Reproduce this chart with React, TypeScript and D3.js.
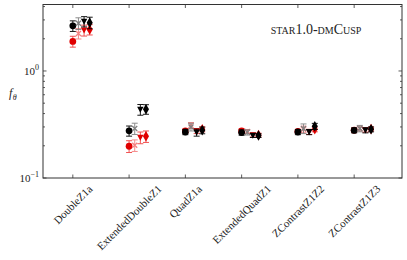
import { useEffect, useRef } from "react";
import * as d3 from "d3";

const categories = ["DoubleZ1a", "ExtendedDoubleZ1", "QuadZ1a", "ExtendedQuadZ1", "ZContrastZ1Z2", "ZContrastZ1Z3"];

// black sample (four estimators: circle, x, triangle, diamond)
const blackCircle = [2.64, 0.276, 0.269, 0.266, 0.269, 0.279];
const blackCircleErr = [0.3, 0.03, 0.015, 0.015, 0.015, 0.015];
const blackCross = [2.79, 0.29, 0.3, 0.267, 0.29, 0.29];
const blackCrossErr = [0.35, 0.035, 0.025, 0.015, 0.03, 0.02];
const blackTri = [2.9, 0.436, 0.266, 0.249, 0.269, 0.279];
const blackTriErr = [0.32, 0.05, 0.02, 0.01, 0.015, 0.015];
const blackDia = [2.83, 0.439, 0.279, 0.249, 0.304, 0.285];
const blackDiaErr = [0.35, 0.045, 0.02, 0.01, 0.02, 0.015];

// red sample
const redCircle = [1.89, 0.198, 0.275, 0.275, 0.272, 0.28];
const redCircleErr = [0.22, 0.025, 0.012, 0.012, 0.012, 0.012];
const redCross = [2.24, 0.202, 0.31, 0.272, 0.285, 0.29];
const redCrossErr = [0.25, 0.025, 0.02, 0.012, 0.02, 0.015];
const redTri = [2.4, 0.239, 0.275, 0.252, 0.27, 0.28];
const redTriErr = [0.28, 0.03, 0.015, 0.01, 0.015, 0.012];
const redDia = [2.44, 0.245, 0.285, 0.252, 0.285, 0.287];
const redDiaErr = [0.27, 0.03, 0.015, 0.01, 0.015, 0.012];

const offsets = [0, 0.1, 0.2, 0.3];

const W = 407;
const H = 260;
const serif = "'Liberation Serif', 'DejaVu Serif', serif";

export default function App() {
  const svgRef = useRef<SVGSVGElement>(null);

  useEffect(() => {
    const svg = d3.select(svgRef.current);
    svg.selectAll("*").remove();

    const left = 43, right = 402, top = 4.5, bottom = 178;
    const x = d3.scaleLinear().domain([-0.53, 5.85]).range([left, right]);
    const y = d3.scaleLog().domain([0.1, 4.18]).range([bottom, top]);

    const series = [
      { vals: redCircle, err: redCircleErr, shape: d3.symbolCircle, fill: "#e00000", bar: "#f04040", off: 0, size: 36 },
      { vals: redCross, err: redCrossErr, shape: "x", fill: "#f58080", bar: "#f58080", off: 1, size: 30 },
      { vals: redTri, err: redTriErr, shape: "tri", fill: "#e00000", bar: "#f04040", off: 2, size: 30 },
      { vals: redDia, err: redDiaErr, shape: d3.symbolDiamond, fill: "#e00000", bar: "#f04040", off: 3, size: 32 },
      { vals: blackCircle, err: blackCircleErr, shape: d3.symbolCircle, fill: "#000", bar: "#000", off: 0, size: 36 },
      { vals: blackCross, err: blackCrossErr, shape: "x", fill: "#808080", bar: "#808080", off: 1, size: 30 },
      { vals: blackTri, err: blackTriErr, shape: "tri", fill: "#000", bar: "#000", off: 2, size: 30 },
      { vals: blackDia, err: blackDiaErr, shape: d3.symbolDiamond, fill: "#000", bar: "#000", off: 3, size: 32 },
    ];

    const plot = svg.append("g");
    series.forEach((s) => {
      s.vals.forEach((v, i) => {
        const cx = x(i + offsets[s.off]);
        const lo = y(v - s.err[i]);
        const hi = y(v + s.err[i]);
        const g = plot.append("g").attr("stroke", s.bar).attr("stroke-width", 1).attr("opacity", 0.9);
        g.append("line").attr("x1", cx).attr("x2", cx).attr("y1", lo).attr("y2", hi);
        g.append("line").attr("x1", cx - 3).attr("x2", cx + 3).attr("y1", lo).attr("y2", lo);
        g.append("line").attr("x1", cx - 3).attr("x2", cx + 3).attr("y1", hi).attr("y2", hi);
        const cy = y(v);
        if (s.shape === "x") {
          plot.append("path")
            .attr("d", `M${cx - 2.5},${cy - 2.5}L${cx + 2.5},${cy + 2.5}M${cx - 2.5},${cy + 2.5}L${cx + 2.5},${cy - 2.5}`)
            .attr("stroke", s.fill).attr("stroke-width", 1.3).attr("fill", "none");
        } else if (s.shape === "tri") {
          plot.append("path")
            .attr("d", `M${cx - 3.2},${cy - 2.8}L${cx + 3.2},${cy - 2.8}L${cx},${cy + 3.2}Z`)
            .attr("fill", s.fill);
        } else {
          plot.append("path")
            .attr("transform", `translate(${cx},${cy})`)
            .attr("d", d3.symbol().type(s.shape as d3.SymbolType).size(s.size)())
            .attr("fill", s.fill);
        }
      });
    });

    // frame
    const frame = "#333";
    svg.append("rect")
      .attr("x", left).attr("y", top).attr("width", right - left).attr("height", bottom - top)
      .attr("fill", "none").attr("stroke", frame).attr("stroke-width", 1);

    // x ticks, inward on bottom and top
    const ticks = svg.append("g").attr("stroke", frame).attr("stroke-width", 0.8);
    categories.forEach((_, i) => {
      const tx = x(i);
      ticks.append("line").attr("x1", tx).attr("x2", tx).attr("y1", bottom).attr("y2", bottom - 3.5);
      ticks.append("line").attr("x1", tx).attr("x2", tx).attr("y1", top).attr("y2", top + 3.5);
    });

    // y ticks (log), inward on left and right
    const major = [0.1, 1];
    const minor = [0.2, 0.3, 0.4, 0.5, 0.6, 0.7, 0.8, 0.9, 2, 3, 4];
    major.forEach((v) => {
      ticks.append("line").attr("x1", left).attr("x2", left + 3.5).attr("y1", y(v)).attr("y2", y(v));
      ticks.append("line").attr("x1", right).attr("x2", right - 3.5).attr("y1", y(v)).attr("y2", y(v));
    });
    minor.forEach((v) => {
      ticks.append("line").attr("x1", left).attr("x2", left + 2).attr("y1", y(v)).attr("y2", y(v));
      ticks.append("line").attr("x1", right).attr("x2", right - 2).attr("y1", y(v)).attr("y2", y(v));
    });

    // y tick labels
    const ylab = [
      { v: 1, exp: "0" },
      { v: 0.1, exp: "\u22121" },
    ];
    ylab.forEach((d) => {
      const t = svg.append("text")
        .attr("x", left - 4).attr("y", y(d.v) + 4)
        .attr("text-anchor", "end")
        .attr("font-family", serif).attr("font-size", 11).attr("fill", "#222");
      t.append("tspan").text("10");
      t.append("tspan").attr("dy", -5).attr("font-size", 8).text(d.exp);
    });

    // y axis label
    const yl = svg.append("text")
      .attr("x", 9).attr("y", 97)
      .attr("font-family", serif).attr("font-size", 12).attr("font-style", "italic").attr("fill", "#222");
    yl.append("tspan").text("f");
    yl.append("tspan").attr("dy", 3).attr("dx", 0.5).attr("font-size", 8).text("\u03b8");

    // x tick labels rotated 45, bbox centered on tick
    const fs = 11;
    categories.forEach((c, i) => {
      const t = svg.append("text")
        .attr("font-family", serif).attr("font-size", fs).attr("fill", "#222")
        .attr("text-anchor", "middle").attr("dominant-baseline", "central")
        .text(c);
      const w = (t.node() as SVGTextElement).getComputedTextLength();
      const cy = 183 + (w + fs) * 0.3536;
      t.attr("transform", `translate(${x(i)},${cy}) rotate(-45)`);
    });

    // title
    svg.append("text")
      .attr("x", 316).attr("y", 34)
      .attr("text-anchor", "middle")
      .attr("font-family", serif).attr("font-size", 14)
      .style("font-variant", "small-caps")
      .attr("fill", "#222")
      .text("star1.0-dmCusp");
  }, []);

  return (
    <svg
      ref={svgRef}
      width={W}
      height={H}
      style={{ position: "absolute", left: 0, top: 0, background: "#fff" }}
    />
  );
}
